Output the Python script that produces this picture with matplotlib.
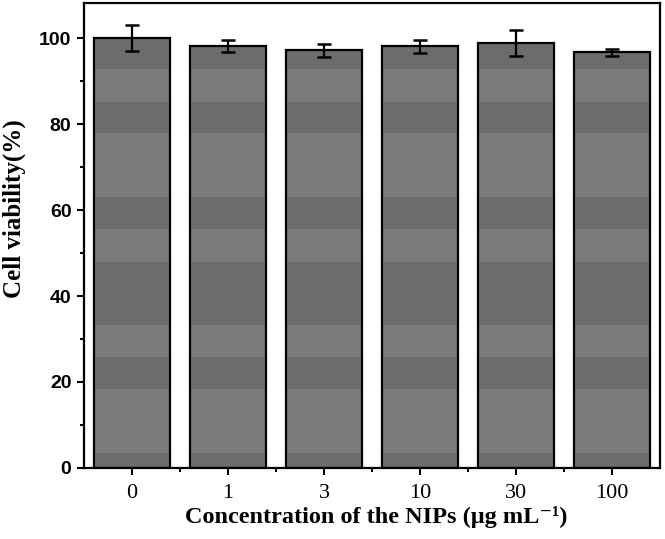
import matplotlib
matplotlib.use("Agg")
import matplotlib.pyplot as plt
from matplotlib.ticker import MultipleLocator, FixedLocator

# Data
categories = ["0", "1", "3", "10", "30", "100"]
viability = [100.1, 98.3, 97.3, 98.2, 98.9, 96.8]
errors = [3.0, 1.4, 1.5, 1.5, 3.0, 0.85]

# banding of the bar fill (style, in data units)
dark_bands = [(0, 3.4), (18.3, 25.8), (33.3, 47.9), (55.6, 63.1), (78.0, 85.2), (92.9, 110)]
light_color = "#7b7b7b"
dark_color = "#6c6c6c"

fig = plt.figure(figsize=(6.65, 5.39), dpi=100)
ax = fig.add_axes([0.1263, 0.1323, 0.8662, 0.8616])

x = list(range(len(categories)))
bars = ax.bar(x, viability, width=0.8, color=light_color, edgecolor="none", zorder=2)
for b in bars:
    for (y0, y1) in dark_bands:
        sp = ax.axhspan(y0, y1, color=dark_color, lw=0, zorder=2.5)
        sp.set_clip_path(b)
ax.bar(x, viability, width=0.8, facecolor="none", edgecolor="black", linewidth=1.6, zorder=3)
ax.errorbar(x, viability, yerr=errors, fmt="none", ecolor="black", elinewidth=1.6,
            capsize=5, capthick=1.8, zorder=4)

ax.set_xlim(-0.5, 5.5)
ax.set_ylim(0, 108.2)

ax.set_xticks(x)
ax.set_xticklabels(categories, family="Liberation Serif", fontsize=16)
ax.xaxis.set_minor_locator(FixedLocator([i + 0.5 for i in x[:-1]]))
ax.yaxis.set_major_locator(MultipleLocator(20))
ax.yaxis.set_minor_locator(MultipleLocator(10))
for lab in ax.get_yticklabels():
    lab.set_family("Liberation Sans")
    lab.set_fontweight("bold")
    lab.set_fontsize(14)

ax.tick_params(axis="both", which="major", direction="out", length=5, width=1.5)
ax.tick_params(axis="both", which="minor", direction="out", length=3, width=1.5)
ax.tick_params(axis="x", which="major", pad=7)
ax.tick_params(axis="y", which="major", pad=4)
for s in ax.spines.values():
    s.set_linewidth(1.6)

ax.set_xlabel("Concentration of the NIPs (\u03bcg mL\u207b\u00b9)",
              family=["Liberation Serif", "DejaVu Serif"], fontweight="bold", fontsize=17.5)
ax.xaxis.set_label_coords(0.507, -0.082)
ax.set_ylabel("Cell viability(%)", family="Liberation Serif", fontweight="bold",
              fontsize=18)
ax.yaxis.set_label_coords(-0.1, 0.557)

fig.savefig("out.png", dpi=100)
